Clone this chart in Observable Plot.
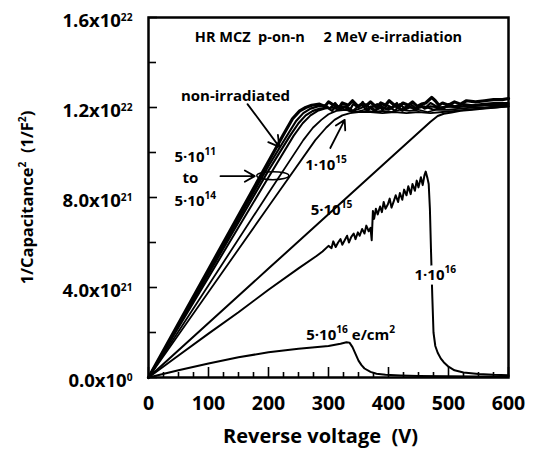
<!DOCTYPE html>
<html>
<head>
<meta charset="utf-8">
<script src="https://cdn.jsdelivr.net/npm/d3@7"></script>
<script src="https://cdn.jsdelivr.net/npm/@observablehq/plot@0.6"></script>
<style>
  body { margin: 0; background: #fff; }
  svg { font-family: "Open Sans", Lato, sans-serif; }
  svg text { font-weight: 700 !important; }
</style>
</head>
<body>
<div id="chart"></div>
<script>
// ---- data (values in units of 1e21 1/F^2) ----
const E = 1e21;
const nonIrrV = [0, 100, 200, 225, 240, 252, 262, 272, 285, 294, 300, 309, 318, 323, 333, 340, 349, 356, 364, 370, 380, 387, 395, 401, 410, 418, 424, 433, 440, 448, 455, 462, 472, 478, 484, 490, 500, 510, 520, 530, 545, 560, 575, 590, 600];
const nonIrrC = [0, 4.8, 9.6, 10.8, 11.5, 11.85, 12.0, 12.1, 12.15, 12.05, 12.25, 12.1, 12.0, 12.2, 12.1, 12.3, 12.05, 12.15, 12.1, 12.25, 12.0, 12.2, 12.1, 12.3, 12.1, 12.05, 12.2, 12.1, 12.25, 12.05, 12.15, 12.2, 12.45, 12.3, 12.1, 12.2, 12.1, 12.25, 12.15, 12.3, 12.25, 12.3, 12.35, 12.35, 12.4];
const f5e11V = [0, 100, 200, 232, 246, 258, 270, 282, 295, 302, 311, 317, 326, 335, 341, 350, 357, 366, 374, 381, 390, 398, 405, 414, 421, 430, 437, 446, 453, 462, 470, 480, 492, 500, 510, 525, 540, 555, 575, 600];
const f5e11C = [0, 4.7, 9.4, 10.8, 11.4, 11.75, 11.95, 12.05, 12.1, 11.95, 12.2, 12.0, 12.05, 11.85, 12.15, 12.0, 12.25, 11.9, 12.05, 12.15, 11.9, 12.1, 12.0, 12.2, 11.9, 12.05, 12.15, 11.95, 12.1, 12.0, 12.2, 12.05, 11.95, 12.15, 12.05, 12.15, 12.1, 12.15, 12.2, 12.2];
const f5e12V = [0, 100, 200, 236, 250, 262, 274, 286, 298, 306, 313, 322, 330, 339, 347, 354, 363, 371, 378, 386, 395, 403, 411, 419, 427, 436, 444, 452, 460, 470, 485, 500, 515, 530, 555, 580, 600];
const f5e12C = [0, 4.6, 9.2, 10.75, 11.3, 11.65, 11.85, 11.95, 12.0, 11.85, 12.1, 11.95, 12.05, 11.8, 12.0, 12.15, 11.9, 12.05, 11.85, 12.1, 11.95, 12.0, 11.85, 12.15, 11.95, 12.05, 11.9, 12.1, 11.95, 12.05, 12.0, 12.05, 12.0, 12.1, 12.1, 12.15, 12.15];
const f5e13V = [0, 100, 200, 242, 257, 270, 282, 294, 306, 318, 330, 341, 352, 364, 376, 388, 400, 411, 423, 435, 447, 460, 475, 490, 505, 520, 540, 560, 580, 600];
const f5e13C = [0, 4.45, 8.9, 10.75, 11.3, 11.65, 11.85, 11.95, 12.0, 11.9, 12.05, 11.85, 11.95, 12.1, 11.85, 12.0, 11.9, 12.05, 11.85, 12.0, 11.95, 12.05, 11.9, 12.0, 12.05, 12.05, 12.05, 12.1, 12.1, 12.1];
const f5e14V = [0, 100, 200, 258, 274, 288, 300, 313, 328, 345, 360, 375, 390, 405, 420, 435, 450, 465, 480, 500, 520, 540, 560, 580, 600];
const f5e14C = [0, 4.1, 8.2, 10.55, 11.1, 11.45, 11.7, 11.85, 11.9, 11.8, 11.9, 11.8, 11.85, 11.8, 11.9, 11.85, 11.9, 11.8, 11.9, 11.9, 11.95, 12.0, 12.0, 12.05, 12.05];
const f1e15V = [0, 100, 200, 278, 296, 310, 323, 336, 350, 370, 390, 410, 430, 450, 470, 490, 510, 530, 550, 575, 600];
const f1e15C = [0, 3.8, 7.6, 10.55, 11.1, 11.45, 11.65, 11.75, 11.8, 11.8, 11.75, 11.8, 11.75, 11.8, 11.75, 11.8, 11.85, 11.9, 11.95, 12.0, 12.05];
const f5e15V = [0, 200, 400, 470, 482, 492, 505, 520, 540, 560, 580, 600];
const f5e15C = [0, 4.84, 9.68, 11.37, 11.62, 11.72, 11.78, 11.85, 11.9, 11.95, 12.0, 12.05];
const f1e16V = [0, 50, 100, 150, 200, 250, 280, 290, 300, 305, 308, 312, 316, 320, 323, 327, 331, 334, 338, 342, 345, 349, 352, 356, 360, 363, 367, 370, 372, 374, 376, 379, 382, 386, 389, 392, 395, 399, 402, 405, 409, 412, 416, 419, 423, 426, 430, 433, 437, 440, 444, 447, 450, 454, 457, 460, 462, 465, 467, 469, 471, 473, 475, 478, 482, 487, 492, 500, 510, 525, 550, 575, 600];
const f1e16C = [0, 0.98, 1.95, 2.9, 3.9, 4.85, 5.4, 5.6, 5.85, 5.75, 6.05, 5.8, 6.0, 6.15, 5.9, 6.1, 6.3, 6.0, 6.25, 6.4, 6.15, 6.45, 6.3, 6.6, 6.4, 6.75, 6.5, 6.65, 6.1, 7.4, 7.05, 7.5, 7.25, 7.6, 7.35, 7.8, 7.5, 7.7, 7.95, 7.55, 7.85, 8.1, 7.8, 8.2, 7.9, 8.35, 8.1, 8.5, 8.15, 8.6, 8.3, 8.75, 8.45, 8.9, 8.55, 9.0, 9.15, 8.85, 8.6, 7.5, 5.5, 3.6, 2.0, 1.4, 1.1, 0.85, 0.68, 0.48, 0.32, 0.22, 0.16, 0.12, 0.1];
const f5e16V = [0, 50, 100, 150, 200, 250, 300, 320, 330, 335, 340, 345, 350, 355, 360, 370, 380, 395, 420, 450, 500, 550, 600];
const f5e16C = [0, 0.32, 0.62, 0.9, 1.12, 1.28, 1.4, 1.5, 1.57, 1.55, 1.35, 1.05, 0.75, 0.55, 0.4, 0.25, 0.17, 0.12, 0.09, 0.07, 0.06, 0.05, 0.05];

const xTicks = [0, 100, 200, 300, 400, 500, 600];
const xMinor = [25, 50, 75, 125, 150, 175, 225, 250, 275, 325, 350, 375, 425, 450, 475, 525, 550, 575];
const yTicks = [0, 4e21, 8e21, 1.2e22, 1.6e22];
const yTickLabels = ["0.0x10{0}", "4.0x10{21}", "8.0x10{21}", "1.2x10{22}", "1.6x10{22}"];
const yMinor = [2e21, 6e21, 1e22, 1.4e22];

const series = [
  {name: "non-irradiated", v: nonIrrV, c: nonIrrC, w: 3.2},
  {name: "5e11", v: f5e11V, c: f5e11C, w: 2.2},
  {name: "5e12", v: f5e12V, c: f5e12C, w: 2.2},
  {name: "5e13", v: f5e13V, c: f5e13C, w: 2},
  {name: "5e14", v: f5e14V, c: f5e14C, w: 1.8},
  {name: "1e15", v: f1e15V, c: f1e15C, w: 1.8},
  {name: "5e15", v: f5e15V, c: f5e15C, w: 2},
  {name: "1e16", v: f1e16V, c: f1e16C, w: 2},
  {name: "5e16", v: f5e16V, c: f5e16C, w: 2}
];

// annotation labels (data coordinates: V, units of 1e21)
const labels = [
  {t: "HR MCZ  p-on-n     2 MeV e-irradiation", x: 300, y: 15.1, s: 14.5},
  {t: "non-irradiated", x: 145, y: 12.5, s: 15},
  {t: "5·10{11}", x: 78, y: 9.8, s: 15},
  {t: "to", x: 70, y: 8.85, s: 15},
  {t: "5·10{14}", x: 78, y: 7.85, s: 15},
  {t: "1·10{15}", x: 296, y: 9.45, s: 15},
  {t: "5·10{15}", x: 305, y: 7.45, s: 15},
  {t: "5·10{16} e/cm{2}", x: 337, y: 1.9, s: 15}
];
const bgLabels = [{t: "1·10{16}", x: 478, y: 4.55, s: 15}];
const arrows = [
  {x1: 165, y1: 12.15, x2: 218, y2: 10.25},
  {x1: 120, y1: 8.95, x2: 177, y2: 8.95},
  {x1: 303, y1: 10.2, x2: 327, y2: 11.45}
];
const ellipse = {x: 208, y: 8.95, rx: 16, ry: 4};

const lineData = series.flatMap(s => s.v.map((v, i) => ({name: s.name, v, c: s.c[i] * E, w: s.w})));

const font = "'Open Sans', Lato, sans-serif";

const plot = Plot.plot({
  width: 538,
  height: 452,
  marginLeft: 148,
  marginRight: 30,
  marginTop: 17,
  marginBottom: 75,
  style: {fontFamily: font, background: "white"},
  x: {domain: [0, 600]},
  y: {domain: [0, 1.6e22]},
  marks: [
    ...series.map(s => Plot.line(lineData.filter(d => d.name === s.name), {x: "v", y: "c", stroke: "black", strokeWidth: s.w, strokeLinejoin: "round", curve: "linear"})),
    Plot.tickX(xTicks, {x: d => d, insetTop: 350, stroke: "black", strokeWidth: 1.6}),
    Plot.tickX(xMinor, {x: d => d, insetTop: 355, stroke: "black", strokeWidth: 1.6}),
    Plot.tickY(yTicks, {y: d => d, insetRight: 351, stroke: "black", strokeWidth: 1.6}),
    Plot.tickY(yMinor, {y: d => d, insetRight: 352, stroke: "black", strokeWidth: 1.6}),
    Plot.frame({stroke: "black", strokeWidth: 2.5}),
    Plot.axisX({ticks: xTicks, tickSize: 0, tickPadding: 19, fontSize: 19.5, fontWeight: "bold", tickFormat: d => String(d), label: null}),
    Plot.axisY({ticks: yTicks, tickSize: 0, tickPadding: 16, fontSize: 18.5, fontWeight: "bold", tickFormat: (d, i) => yTickLabels[yTicks.indexOf(d)], label: null, dy: 4}),
    Plot.text(["Reverse voltage  (V)"], {frameAnchor: "bottom", textAnchor: "middle", dx: -8, dy: 65, fontSize: 20, fontWeight: "bold", text: d => d}),
    Plot.text(["1/Capacitance{2}  (1/F{2})"], {frameAnchor: "left", textAnchor: "middle", dx: -121, rotate: -90, fontSize: 16.5, fontWeight: "bold", text: d => d}),
    Plot.arrow(arrows, {x1: "x1", y1: d => d.y1 * E, x2: "x2", y2: d => d.y2 * E, stroke: "black", strokeWidth: 1.8, headLength: 10}),
    Plot.text(labels, {x: "x", y: d => d.y * E, text: "t", fontSize: d => d.s, fontWeight: "bold", fill: "black"}),
    Plot.text(bgLabels, {x: "x", y: d => d.y * E, text: "t", fontSize: d => d.s, fontWeight: "bold", fill: "white", stroke: "white", strokeWidth: 9}),
    Plot.text(bgLabels, {x: "x", y: d => d.y * E, text: "t", fontSize: d => d.s, fontWeight: "bold", fill: "black"})
  ]
});

// ellipse via plot scales
const sx = plot.scale("x"), sy = plot.scale("y");
d3.select(plot).append("ellipse")
  .attr("cx", sx.apply(ellipse.x)).attr("cy", sy.apply(ellipse.y * E))
  .attr("rx", ellipse.rx).attr("ry", ellipse.ry)
  .attr("fill", "none").attr("stroke", "black").attr("stroke-width", 1.5);

// superscripts: segments in {..}
d3.select(plot).selectAll("text").each(function() {
  const el = this;
  const tsp = el.querySelectorAll("tspan");
  const targets = tsp.length ? Array.from(tsp) : [el];
  targets.forEach(node => {
    const txt = node.textContent;
    if (!txt.includes("{")) return;
    const fs = parseFloat(getComputedStyle(el).fontSize) || 16;
    const parts = txt.split(/(\{[^}]*\})/).filter(p => p.length);
    node.textContent = "";
    let raised = false;
    parts.forEach(p => {
      const t = document.createElementNS("http://www.w3.org/2000/svg", "tspan");
      if (p.startsWith("{")) {
        t.textContent = p.slice(1, -1);
        t.setAttribute("font-size", (fs * 0.64).toFixed(1));
        t.setAttribute("dy", (-fs * 0.42).toFixed(1));
        raised = true;
      } else {
        t.textContent = p;
        if (raised) { t.setAttribute("dy", (fs * 0.42).toFixed(1)); raised = false; }
      }
      node.appendChild(t);
    });
  });
});

document.getElementById("chart").appendChild(plot);
</script>
</body>
</html>
